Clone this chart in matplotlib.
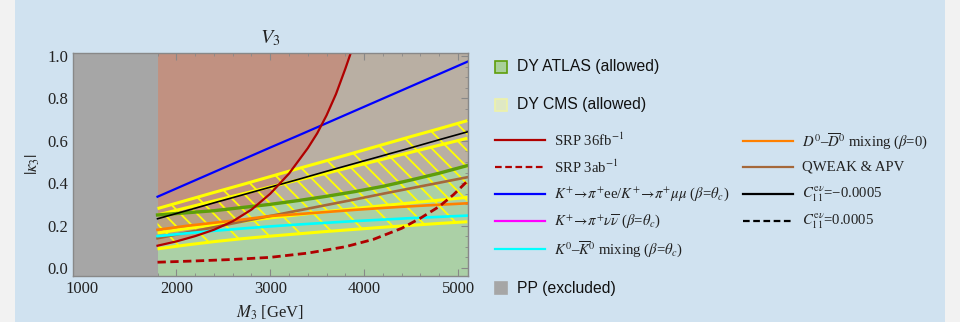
import numpy as np
import matplotlib
matplotlib.use("Agg")
import matplotlib.pyplot as plt
from matplotlib.lines import Line2D
from matplotlib.patches import Rectangle

plt.rcParams['font.family'] = ['Liberation Serif', 'DejaVu Serif']
plt.rcParams['mathtext.fontset'] = 'stix'
plt.rcParams['hatch.linewidth'] = 1.3

# ---------------- data ----------------
pp_limit = 1800  # GeV, PP excluded below
m = [1800, 2100, 2400, 2700, 3000, 3300, 3600, 3900, 4200, 4500, 4800, 5100]
blue_kpiee = [.336, .394, .452, .510, .568, .625, .683, .741, .799, .857, .915, .973]
black_c11 = [.232, .269, .307, .344, .381, .418, .456, .493, .530, .567, .605, .642]
green_atlas = [.250, .260, .270, .285, .300, .318, .338, .360, .385, .415, .447, .483]
brown_qweak = [.140, .166, .192, .219, .245, .271, .297, .323, .350, .376, .402, .428]
orange_d0 = [.180, .198, .213, .228, .245, .254, .264, .274, .283, .291, .298, .305]
cyan_k0 = [.150, .163, .175, .186, .196, .205, .213, .221, .228, .235, .241, .247]
cms_up1 = [.280, .318, .356, .393, .431, .469, .506, .544, .582, .620, .657, .695]
cms_up2 = [.250, .283, .316, .349, .382, .415, .447, .480, .513, .546, .579, .612]
cms_lo1 = [.165, .185, .203, .220, .236, .251, .266, .280, .294, .307, .320, .333]
cms_lo2 = [.090, .108, .124, .138, .150, .161, .172, .182, .192, .201, .210, .218]

m_srp36 = [1800, 2000, 2200, 2400, 2600, 2800, 3000, 3200, 3400, 3500, 3600, 3700, 3800, 3870]
srp36 = [.105, .125, .150, .180, .220, .275, .350, .445, .565, .635, .720, .820, .940, 1.03]
m_srp3 = [1800, 2200, 2600, 3000, 3400, 3800, 4100, 4400, 4600, 4800, 4950, 5100]
srp3 = [.027, .033, .040, .050, .070, .100, .135, .187, .235, .290, .345, .410]

xlim = (900, 5106)
ylim = (-0.038, 1.014)
xticks = [1000, 2000, 3000, 4000, 5000]
yticks = [0.0, 0.2, 0.4, 0.6, 0.8, 1.0]

# ---------------- figure ----------------
fig = plt.figure(figsize=(9.6, 3.22), dpi=100, facecolor='#f2f2f2')
fig.add_artist(Rectangle((15 / 960, 0), 930 / 960, 1, transform=fig.transFigure,
                         facecolor='#d0e2f0', edgecolor='none', zorder=-10))
ax = fig.add_axes([73 / 960, 46 / 322, 395 / 960, 223 / 322])
ax.set_facecolor('#b9afa3')

top = ylim[1] + 0.05
bot = ylim[0] - 0.05
ax.fill_between(m, bot, green_atlas, color='#abd0a6', lw=0, zorder=1)
ax.fill_between(m, green_atlas, top, color='#b9afa3', lw=0, zorder=1)
ax.fill_between(m_srp36, srp36, top, color='#c97561', alpha=0.5, lw=0, zorder=1.5)
ax.axvspan(xlim[0] - 100, pp_limit, color='#a6a6a6', lw=0, zorder=1.8)

# DY CMS hatched bands (two overlapping bands -> denser hatch in the overlap)
hatch_kw = dict(facecolor='none', edgecolor='#ffff00', lw=0, zorder=2)
ax.fill_between(m, cms_up2, cms_up1, hatch='\\', **hatch_kw)
ax.fill_between(m, cms_lo1, cms_up2, hatch='\\\\', **hatch_kw)
ax.fill_between(m, cms_lo2, cms_lo1, hatch='\\', **hatch_kw)
for yy in (cms_up1, cms_up2, cms_lo1, cms_lo2):
    ax.plot(m, yy, color='#ffff00', lw=2.2, zorder=3, solid_capstyle='butt')

ax.plot(m, green_atlas, color='#5e9e0a', lw=2.4, zorder=4)
ax.plot(m, brown_qweak, color='#a5683a', lw=1.9, zorder=4)
ax.plot(m, orange_d0, color='#ff8000', lw=1.9, zorder=4)
ax.plot(m, cyan_k0, color='#00ffff', lw=1.9, zorder=4)
ax.plot(m, black_c11, color='black', lw=1.2, zorder=4)
ax.plot(m, blue_kpiee, color='#0000ff', lw=1.6, zorder=4)
ax.plot(m_srp36, srp36, color='#b00000', lw=1.6, zorder=4.5)
ax.plot(m_srp3, srp3, color='#b00000', lw=2.0, ls=(0, (3, 1.6)), zorder=4.5)

ax.set_xlim(*xlim)
ax.set_ylim(*ylim)
ax.set_xticks(xticks)
ax.set_xticklabels([str(v) for v in xticks])
ax.set_yticks(yticks)
ax.set_yticklabels([f'{v:.1f}' for v in yticks])
ax.set_xticks(np.arange(1000, 5101, 200), minor=True)
ax.set_yticks(np.arange(0.0, 1.001, 0.05), minor=True)
ax.tick_params(which='both', direction='in', top=True, right=True,
               color='#888888', labelcolor='#222222', labelsize=12)
ax.tick_params(which='major', length=5, width=0.8)
ax.tick_params(which='minor', length=2.5, width=0.6)
for s in ax.spines.values():
    s.set_color('#888888')
    s.set_linewidth(1.0)
    s.set_zorder(6)

ax.set_title(r'$V_3$', fontsize=14.5, pad=7, color='#222222')
ax.set_xlabel(r'$M_3$ [GeV]', fontsize=12, labelpad=5, color='#222222')
ax.set_ylabel(r'$|\kappa_3|$', fontsize=12, labelpad=4, color='#222222')

# ---------------- legend (manual, figure pixels) ----------------
W, H = 960.0, 322.0

def fx(px):
    return px / W

def fy(py):
    return 1 - py / H

def square(px, py, fc, ec, label):
    fig.add_artist(Rectangle((fx(px - 6), fy(py + 6)), 12 / W, 12 / H, transform=fig.transFigure,
                             facecolor=fc, edgecolor=ec, lw=1.2))
    fig.text(fx(517), fy(py), label, family=['Liberation Sans', 'DejaVu Sans'],
             fontsize=11.3, va='center', ha='left', color='#111111')

def legline(x0, py, color, ls, lw, label):
    fig.add_artist(Line2D([fx(x0), fx(x0 + 50)], [fy(py), fy(py)], transform=fig.transFigure,
                          color=color, ls=ls, lw=lw))
    fig.text(fx(x0 + 59), fy(py), label, fontsize=10.6, va='center', ha='left', color='#222222')

square(501, 67, '#a9d09a', '#5e9e0a', 'DY ATLAS (allowed)')
square(501, 105, '#dfe8c4', '#eef2a8', 'DY CMS (allowed)')
square(501, 288, '#a6a6a6', '#a6a6a6', 'PP (excluded)')

dash = (0, (3, 1.6))
legline(495, 140, '#b00000', '-', 1.6, r'SRP 36fb$^{-1}$')
legline(495, 167, '#b00000', dash, 1.6, r'SRP 3ab$^{-1}$')
legline(495, 194, '#0000ff', '-', 1.6,
        r'$K^{+}\!\to\!\pi^{+}$ee/$K^{+}\!\to\!\pi^{+}\mu\mu$ ($\beta$=$\theta_c$)')
legline(495, 221, '#ff00ff', '-', 1.6,
        r'$K^{+}\!\to\!\pi^{+}\nu\overline{\nu}$ ($\beta$=$\theta_c$)')
legline(495, 249, '#00ffff', '-', 1.6, r'$K^0$–$\overline{K}^0$ mixing ($\beta$=$\theta_c$)')
legline(743, 141, '#ff8000', '-', 1.6, r'$D^0$–$\overline{D}^0$ mixing ($\beta$=0)')
legline(743, 167, '#a5683a', '-', 1.6, 'QWEAK & APV')
legline(743, 194, 'black', '-', 1.6, r'$C_{11}^{\mathrm{e}\nu}$=−0.0005')
legline(743, 221, 'black', dash, 1.6, r'$C_{11}^{\mathrm{e}\nu}$=0.0005')

fig.savefig('out.png', dpi=100, facecolor=fig.get_facecolor())
